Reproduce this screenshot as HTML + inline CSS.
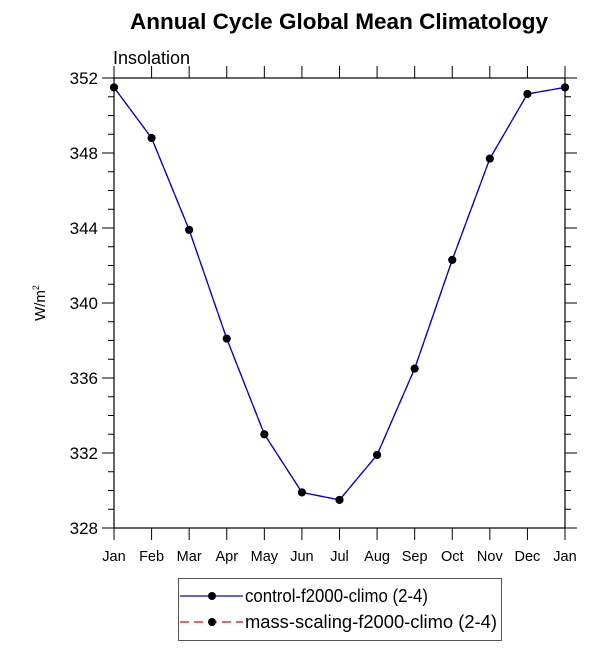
<!DOCTYPE html>
<html><head><meta charset="utf-8"><style>
body{margin:0;background:#fff;}
svg text{font-family:"Liberation Sans",Helvetica,Arial,sans-serif;}
</style></head><body>
<svg id="c" width="612" height="653" viewBox="0 0 612 653" xmlns="http://www.w3.org/2000/svg">
<text x="339" y="29" text-anchor="middle" font-size="22" font-weight="bold" textLength="418" lengthAdjust="spacingAndGlyphs">Annual Cycle Global Mean Climatology</text>
<text x="113" y="64" font-size="18">Insolation</text>
<text transform="translate(45,303) rotate(-90)" text-anchor="middle" font-size="15">W/m<tspan dy="-6" font-size="9">2</tspan></text>
<g id="axes"></g>
<g id="series"></g>
<g>
<rect x="178.5" y="578.5" width="323" height="62" fill="#fff" stroke="#555" stroke-width="1"/>
<g>
<line x1="180" y1="596" x2="243" y2="596" stroke="#0000ee" stroke-width="1.3"/>
<circle cx="212" cy="596" r="4" fill="#000"/>
<text x="245" y="602" font-size="18" textLength="183" lengthAdjust="spacingAndGlyphs">control-f2000-climo (2-4)</text>
</g>
<g>
<line x1="180" y1="622" x2="243" y2="622" stroke="#e00" stroke-width="1.3" stroke-dasharray="9,5"/>
<circle cx="212" cy="622" r="4" fill="#000"/>
<text x="245" y="628" font-size="18" textLength="252" lengthAdjust="spacingAndGlyphs">mass-scaling-f2000-climo (2-4)</text>
</g>
</g>
</svg>
<script>
const months=["Jan","Feb","Mar","Apr","May","Jun","Jul","Aug","Sep","Oct","Nov","Dec","Jan"];
const controlValues=[351.5,348.8,343.9,338.1,333.0,329.9,329.5,331.9,336.5,342.3,347.7,351.15,351.5];
const massScalingValues=[351.5,348.8,343.9,338.1,333.0,329.9,329.5,331.9,336.5,342.3,347.7,351.15,351.5];
const yTicks=[328,332,336,340,344,348,352];
const yMin=328,yMax=352;
const L=114,R=565,T=78,B=528;
const ns="http://www.w3.org/2000/svg";
function xs(i){return L+(R-L)*i/(months.length-1);}
function ys(v){return B-(v-yMin)/(yMax-yMin)*(B-T);}
function mk(t,a,p){const e=document.createElementNS(ns,t);for(const k in a)e.setAttribute(k,a[k]);p.appendChild(e);return e;}
const ax=document.getElementById('axes');
const fr=mk('rect',{x:L,y:T,width:R-L,height:B-T,fill:'none',stroke:'#000','stroke-width':1.2},ax);


for(let v=yMin;v<=yMax;v++){
  const y=ys(v),maj=yTicks.includes(v),len=maj?12:6;
  mk('line',{x1:L-len,y1:y,x2:L,y2:y,stroke:'#000','stroke-width':1},ax);
  mk('line',{x1:R,y1:y,x2:R+len,y2:y,stroke:'#000','stroke-width':1},ax);
}
yTicks.forEach(v=>{
  const t=mk('text',{x:L-16,y:ys(v)+6,'text-anchor':'end','font-size':17},ax);
  t.textContent=v;
  
  
});
months.forEach((m,i)=>{
  const x=xs(i);
  mk('line',{x1:x,y1:B,x2:x,y2:B+12,stroke:'#000','stroke-width':1},ax);
  mk('line',{x1:x,y1:T-12,x2:x,y2:T,stroke:'#000','stroke-width':1},ax);
  const t=mk('text',{x:x,y:B+33,'text-anchor':'middle','font-size':14.5},ax);
  t.textContent=m;
  
  
});
const sg=document.getElementById('series');
function draw(vals,color,dash,name){
  const g=mk('g',{},sg);
  
  
  const pts=vals.map((v,i)=>xs(i)+','+ys(v)).join(' ');
  const a={points:pts,fill:'none',stroke:color,'stroke-width':1.3};
  if(dash)a['stroke-dasharray']=dash;
  mk('polyline',a,g);
  vals.forEach((v,i)=>{
    const c=mk('circle',{cx:xs(i),cy:ys(v),r:4,fill:'#000'},g);
    
    
  });
}
draw(massScalingValues,'#e00','9,5','series-mass-scaling');
draw(controlValues,'#0000ee',null,'series-control');
</script>
</body></html>
